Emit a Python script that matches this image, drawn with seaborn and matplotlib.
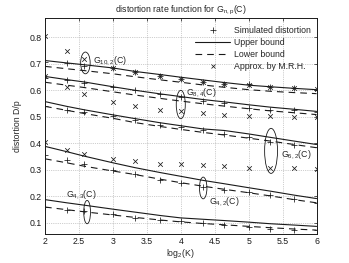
import pandas as pd
import seaborn as sns
import matplotlib.pyplot as plt
from matplotlib.patches import Ellipse
from matplotlib.lines import Line2D

# log2(K) for K = 4, 5, 6, 8, 10, 13, 16, 20, 25, 32, 40, 51, 64
log2_k = [2, 2.32, 2.58, 3, 3.32, 3.7, 4, 4.32, 4.64, 5, 5.32, 5.67, 6]

# G_{10,2}(C)
upper_10_2 = [0.713, 0.704, 0.697, 0.685, 0.672, 0.660, 0.650, 0.640, 0.630, 0.620, 0.614, 0.608, 0.603]
lower_10_2 = [0.691, 0.682, 0.675, 0.663, 0.652, 0.640, 0.631, 0.621, 0.612, 0.603, 0.597, 0.592, 0.588]
sim_10_2 = [0.708, 0.703, 0.694, 0.684, 0.669, 0.653, 0.644, 0.631, 0.625, 0.623, 0.612, 0.609, 0.603]
approx_10_2 = [0.804, 0.748, 0.720, 0.684, 0.669, 0.655, 0.645, 0.632, 0.626, 0.622, 0.613, 0.608, 0.604]

# G_{8,4}(C)
upper_8_4 = [0.653, 0.641, 0.632, 0.614, 0.601, 0.587, 0.577, 0.566, 0.557, 0.546, 0.537, 0.529, 0.521]
lower_8_4 = [0.631, 0.620, 0.611, 0.595, 0.583, 0.570, 0.560, 0.550, 0.541, 0.531, 0.523, 0.516, 0.509]
sim_8_4 = [0.648, 0.640, 0.628, 0.612, 0.600, 0.588, 0.577, 0.562, 0.552, 0.533, 0.525, 0.525, 0.518]
approx_8_4 = [0.653, 0.612, 0.588, 0.558, 0.543, 0.528, 0.521, 0.516, 0.509, 0.502, 0.502, 0.499, 0.499]

# G_{6,2}(C)
upper_6_2 = [0.558, 0.540, 0.527, 0.508, 0.494, 0.478, 0.467, 0.455, 0.449, 0.436, 0.423, 0.409, 0.396]
lower_6_2 = [0.540, 0.525, 0.513, 0.495, 0.479, 0.464, 0.453, 0.442, 0.432, 0.420, 0.409, 0.396, 0.384]
sim_6_2 = [0.543, 0.525, 0.518, 0.502, 0.487, 0.468, 0.461, 0.449, 0.437, 0.424, 0.405, 0.396, 0.386]
approx_6_2 = [0.405, 0.374, 0.361, 0.342, 0.333, 0.323, 0.321, 0.320, 0.316, 0.308, 0.307, 0.307, 0.305]

# G_{4,2}(C)
upper_4_2 = [0.389, 0.369, 0.352, 0.327, 0.309, 0.290, 0.276, 0.261, 0.248, 0.233, 0.220, 0.205, 0.192]
lower_4_2 = [0.342, 0.327, 0.314, 0.296, 0.283, 0.265, 0.252, 0.239, 0.227, 0.214, 0.202, 0.188, 0.176]
sim_4_2 = [0.355, 0.336, 0.323, 0.298, 0.286, 0.263, 0.252, 0.235, 0.223, 0.216, 0.204, 0.191, 0.177]

# G_{4,3}(C)
upper_4_3 = [0.188, 0.176, 0.167, 0.152, 0.141, 0.128, 0.119, 0.114, 0.109, 0.103, 0.097, 0.092, 0.087]
lower_4_3 = [0.160, 0.150, 0.142, 0.130, 0.121, 0.111, 0.104, 0.098, 0.093, 0.087, 0.082, 0.077, 0.073]
sim_4_3 = [0.160, 0.147, 0.145, 0.132, 0.120, 0.112, 0.107, 0.101, 0.093, 0.084, 0.078, 0.074, 0.072]

upper = {'10,2': upper_10_2, '8,4': upper_8_4, '6,2': upper_6_2, '4,2': upper_4_2, '4,3': upper_4_3}
lower = {'10,2': lower_10_2, '8,4': lower_8_4, '6,2': lower_6_2, '4,2': lower_4_2, '4,3': lower_4_3}
sim = {'10,2': sim_10_2, '8,4': sim_8_4, '6,2': sim_6_2, '4,2': sim_4_2, '4,3': sim_4_3}
approx = {'10,2': approx_10_2, '8,4': approx_8_4, '6,2': approx_6_2}

rows = []
for fam in upper:
    for x, y in zip(log2_k, upper[fam]):
        rows.append({'x': x, 'y': y, 'family': fam, 'bound': 'upper'})
    for x, y in zip(log2_k, lower[fam]):
        rows.append({'x': x, 'y': y, 'family': fam, 'bound': 'lower'})
df_lines = pd.DataFrame(rows)

df_sim = pd.DataFrame([{'x': x, 'y': y, 'family': f} for f in sim for x, y in zip(log2_k, sim[f])])
df_approx = pd.DataFrame([{'x': x, 'y': y, 'family': f} for f in approx for x, y in zip(log2_k, approx[f])])

sns.set_theme(style="whitegrid")
plt.rcParams['font.family'] = ['Liberation Sans', 'DejaVu Sans']
plt.rcParams['mathtext.default'] = 'regular'
FS = 6.3

fig = plt.figure(figsize=(3.49, 2.63), dpi=100)
ax = fig.add_axes([0.129, 0.109, 0.778, 0.821])

sns.lineplot(data=df_lines, x='x', y='y', units='family', style='bound', estimator=None,
             dashes={'upper': '', 'lower': (6, 4.5)}, color='k', lw=0.8, legend=False, ax=ax)
sns.scatterplot(data=df_sim, x='x', y='y', marker='+', color='k', s=24, linewidth=0.55, legend=False, ax=ax)
sns.scatterplot(data=df_approx, x='x', y='y', marker='x', color='k', s=11, linewidth=0.55, legend=False, ax=ax)

# ellipses + labels for each code
ellipses = [((2.595, 0.704), 0.14, 0.082), ((4.0, 0.547), 0.133, 0.107), ((5.33, 0.372), 0.19, 0.17),
            ((4.33, 0.232), 0.11, 0.082), ((2.62, 0.141), 0.10, 0.088)]
for c, w, h in ellipses:
    ax.add_patch(Ellipse(c, w, h, fill=False, edgecolor='k', lw=0.6))
labels = [(2.71, 0.714, r'$G_{10,2}$(C)'), (4.08, 0.592, r'$G_{8,4}$(C)'), (5.47, 0.359, r'$G_{6,2}$(C)'),
          (4.41, 0.180, r'$G_{4,2}$(C)'), (2.31, 0.206, r'$G_{4,3}$(C)')]
for lx, ly, t in labels:
    ax.text(lx, ly, t, fontsize=FS, ha='left', va='center')

ax.set_xlim(2, 6)
ax.set_ylim(0.057, 0.872)
ax.set_xticks([2, 2.5, 3, 3.5, 4, 4.5, 5, 5.5, 6])
ax.set_xticklabels(['2', '2.5', '3', '3.5', '4', '4.5', '5', '5.5', '6'])
ax.set_yticks([0.1, 0.2, 0.3, 0.4, 0.5, 0.6, 0.7, 0.8])
ax.grid(True, linestyle=':', color='#a0a0a0', lw=0.5)
ax.set_facecolor('white')
for sp in ax.spines.values():
    sp.set_color('k')
    sp.set_linewidth(0.7)
ax.tick_params(direction='in', top=True, right=True, length=2.5, width=0.5, pad=2,
               labelsize=FS, colors='k')

ax.set_title(r'distortion rate function for $G_{n,p}$(C)', fontsize=FS, pad=4)
ax.set_xlabel(r'log$_2$(K)', fontsize=FS, labelpad=1)
ax.set_ylabel('distortion D/p', fontsize=FS, labelpad=6)

handles = [Line2D([], [], color='k', marker='+', ls='none', markersize=4.8, mew=0.55),
           Line2D([], [], color='k', lw=0.8),
           Line2D([], [], color='k', lw=0.8, dashes=(6, 4.5)),
           Line2D([], [], color='k', marker='x', ls='none', markersize=3.3, mew=0.55)]
ax.legend(handles, ['Simulated distortion', 'Upper bound', 'Lower bound', 'Approx. by M.R.H.'],
          loc='upper right', bbox_to_anchor=(1.0, 0.995), frameon=False, fontsize=FS,
          handlelength=4.0, handletextpad=0.4, labelspacing=0.35, borderaxespad=0.3)

fig.savefig('out.png', dpi=100)
